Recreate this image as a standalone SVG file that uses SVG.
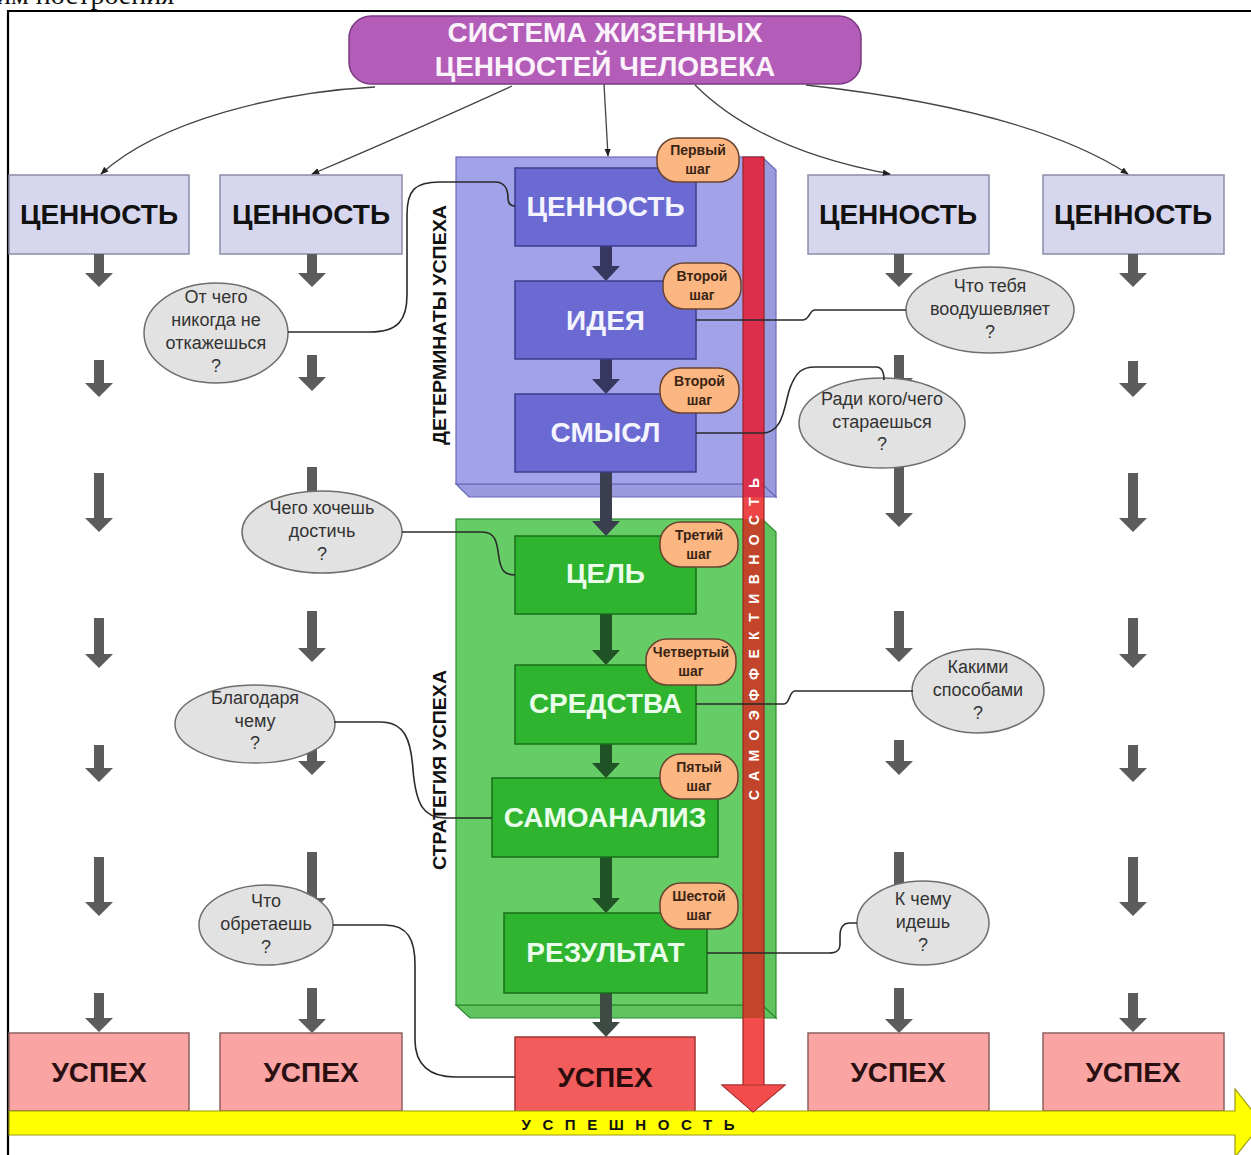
<svg xmlns="http://www.w3.org/2000/svg" width="1251" height="1155" viewBox="0 0 1251 1155">
<style>
text{font-family:"Liberation Sans",Arial,sans-serif}
.bt{font-weight:bold;font-size:28px;text-anchor:middle}
.ob{fill:#d6d6ee;stroke:#8c8ca6;stroke-width:1.5}
.us{fill:#fba4a4;stroke:#8e6060;stroke-width:1.5}
.ga{fill:#5c5c5c}
.ib{fill:#6a6ad2;stroke:#3c3c8c;stroke-width:1.5}
.ig{fill:#2eb42e;stroke:#1a6e1a;stroke-width:1.5}
.bd{fill:#fbb682;stroke:#6a4430;stroke-width:1.5}
.bdt{font-size:14px;font-weight:bold;fill:#3a2414;text-anchor:middle}
.el{fill:#e2e2e2;stroke:#6e6e6e;stroke-width:1.5}
.et{font-size:18px;fill:#333;text-anchor:middle}
.cn{fill:none;stroke:#2a2a2a;stroke-width:1.6}
.tc{fill:none;stroke:#444;stroke-width:1.3;marker-end:url(#ah)}
.pl{font-size:18px;font-weight:bold;fill:#111;text-anchor:middle}
</style>
<defs>
<marker id="ah" viewBox="0 0 10 10" refX="9" refY="5" markerWidth="8" markerHeight="8" orient="auto" markerUnits="userSpaceOnUse"><path d="M0,1 L10,5 L0,9 z" fill="#222"/></marker>
</defs>
<rect width="1251" height="1155" fill="#fff"/>
<text x="-4" y="4" font-family="'Liberation Serif',serif" style="font-family:'Liberation Serif',serif" font-size="28" fill="#111">им построения</text>
<path d="M8,1155 V11 H1251" fill="none" stroke="#000" stroke-width="2.2"/>

<g id="title">
<rect x="349" y="16" width="512" height="68" rx="22" fill="#b35db8" stroke="#7a3a82" stroke-width="1.5"/>
<text class="bt" x="605" y="42" fill="#fbf2fb">СИСТЕМА ЖИЗЕННЫХ</text>
<text class="bt" x="605" y="76" fill="#fbf2fb">ЦЕННОСТЕЙ ЧЕЛОВЕКА</text>
</g>

<g id="values">
<rect class="ob" x="9" y="175" width="180" height="79"/><text class="bt" x="99" y="224" fill="#111">ЦЕННОСТЬ</text>
<rect class="ob" x="220" y="175" width="182" height="79"/><text class="bt" x="311" y="224" fill="#111">ЦЕННОСТЬ</text>
<rect class="ob" x="808" y="175" width="181" height="79"/><text class="bt" x="898" y="224" fill="#111">ЦЕННОСТЬ</text>
<rect class="ob" x="1043" y="175" width="181" height="79"/><text class="bt" x="1133" y="224" fill="#111">ЦЕННОСТЬ</text>
</g>

<g id="gray-arrows" class="ga">
<polygon points="94,254 104,254 104,273 113,273 99,287 85,273 94,273"/>
<polygon points="94,360 104,360 104,383 113,383 99,397 85,383 94,383"/>
<polygon points="94,473 104,473 104,518 113,518 99,532 85,518 94,518"/>
<polygon points="94,618 104,618 104,654 113,654 99,668 85,654 94,654"/>
<polygon points="94,745 104,745 104,768 113,768 99,782 85,768 94,768"/>
<polygon points="94,857 104,857 104,902 113,902 99,916 85,902 94,902"/>
<polygon points="94,993 104,993 104,1018 113,1018 99,1032 85,1018 94,1018"/>
<polygon points="307,254 317,254 317,273 326,273 312,287 298,273 307,273"/>
<polygon points="307,355 317,355 317,377 326,377 312,391 298,377 307,377"/>
<polygon points="307,467 317,467 317,513 326,513 312,527 298,513 307,513"/>
<polygon points="307,611 317,611 317,648 326,648 312,662 298,648 307,648"/>
<polygon points="307,745 317,745 317,761 326,761 312,775 298,761 307,761"/>
<polygon points="307,852 317,852 317,898 326,898 312,912 298,898 307,898"/>
<polygon points="307,988 317,988 317,1019 326,1019 312,1033 298,1019 307,1019"/>
<polygon points="894,254 904,254 904,273 913,273 899,287 885,273 894,273"/>
<polygon points="894,355 904,355 904,378 913,378 899,392 885,378 894,378"/>
<polygon points="894,467 904,467 904,513 913,513 899,527 885,513 894,513"/>
<polygon points="894,611 904,611 904,648 913,648 899,662 885,648 894,648"/>
<polygon points="894,740 904,740 904,761 913,761 899,775 885,761 894,761"/>
<polygon points="894,852 904,852 904,898 913,898 899,912 885,898 894,898"/>
<polygon points="894,988 904,988 904,1019 913,1019 899,1033 885,1019 894,1019"/>
<polygon points="1128,254 1138,254 1138,273 1147,273 1133,287 1119,273 1128,273"/>
<polygon points="1128,361 1138,361 1138,383 1147,383 1133,397 1119,383 1128,383"/>
<polygon points="1128,473 1138,473 1138,518 1147,518 1133,532 1119,518 1128,518"/>
<polygon points="1128,618 1138,618 1138,654 1147,654 1133,668 1119,654 1128,654"/>
<polygon points="1128,745 1138,745 1138,768 1147,768 1133,782 1119,768 1128,768"/>
<polygon points="1128,857 1138,857 1138,902 1147,902 1133,916 1119,902 1128,902"/>
<polygon points="1128,993 1138,993 1138,1018 1147,1018 1133,1032 1119,1018 1128,1018"/>
</g>

<g id="success">
<rect class="us" x="9" y="1033" width="180" height="78"/><text class="bt" x="99" y="1082" fill="#2a1010">УСПЕХ</text>
<rect class="us" x="220" y="1033" width="182" height="78"/><text class="bt" x="311" y="1082" fill="#2a1010">УСПЕХ</text>
<rect x="515" y="1037" width="180" height="76" fill="#f25c5c" stroke="#a03434" stroke-width="1.5"/><text class="bt" x="605" y="1087" fill="#2a0c0c">УСПЕХ</text>
<rect class="us" x="808" y="1033" width="181" height="78"/><text class="bt" x="898" y="1082" fill="#2a1010">УСПЕХ</text>
<rect class="us" x="1043" y="1033" width="181" height="78"/><text class="bt" x="1133" y="1082" fill="#2a1010">УСПЕХ</text>
</g>

<g id="success-bar">
<polygon points="9,1111 1235,1111 1235,1089 1262,1123 1235,1157 1235,1135 9,1135" fill="#ffff00" stroke="#9a9a10" stroke-width="1.2"/>
<text x="628" y="1130" font-size="15" font-weight="bold" fill="#111" text-anchor="middle" textLength="213" lengthAdjust="spacing">УСПЕШНОСТЬ</text>
</g>

<g id="panel-determinants">
<polygon points="762,157 776,170 776,497 762,484" fill="#9a9adf" stroke="#6a6ab8" stroke-width="1.2"/>
<polygon points="456,484 762,484 776,497 469,497" fill="#9a9adf" stroke="#6a6ab8" stroke-width="1.2"/>
<rect x="456" y="157" width="306" height="327" fill="#a2a2e8" stroke="#6a6ab8" stroke-width="1.2"/>
<text class="pl" transform="translate(446,325) rotate(-90)" textLength="240" lengthAdjust="spacingAndGlyphs">ДЕТЕРМИНАТЫ УСПЕХА</text>
</g>

<g id="panel-strategy">
<polygon points="762,519 776,532 776,1018 762,1005" fill="#5fc45f" stroke="#2e8a2e" stroke-width="1.2"/>
<polygon points="456,1005 762,1005 776,1018 470,1018" fill="#5fc45f" stroke="#2e8a2e" stroke-width="1.2"/>
<rect x="456" y="519" width="306" height="486" fill="#66cc66" stroke="#2e8a2e" stroke-width="1.2"/>
<text class="pl" transform="translate(446,770) rotate(-90)" textLength="200" lengthAdjust="spacingAndGlyphs">СТРАТЕГИЯ УСПЕХА</text>
</g>

<g id="inner-arrows">
<polygon points="600,246 612,246 612,266 620,266 606,281 592,266 600,266" fill="#36365e"/>
<polygon points="600,359 612,359 612,379 620,379 606,394 592,379 600,379" fill="#36365e"/>
<polygon points="600,472 612,472 612,521 620,521 606,536 592,521 600,521" fill="#3a3e4e"/>
<polygon points="600,614 612,614 612,650 620,650 606,665 592,650 600,650" fill="#1f5224"/>
<polygon points="600,744 612,744 612,763 620,763 606,778 592,763 600,763" fill="#1f5224"/>
<polygon points="600,857 612,857 612,898 620,898 606,913 592,898 600,898" fill="#1f5224"/>
<polygon points="600,993 612,993 612,1022 620,1022 606,1037 592,1022 600,1022" fill="#3e4a44"/>
</g>

<g id="box-value">
<rect class="ib" x="515" y="168" width="181" height="78"/><text class="bt" x="605.5" y="216" fill="#f4f4ff">ЦЕННОСТЬ</text>
</g>
<g id="box-idea">
<rect class="ib" x="515" y="281" width="181" height="78"/><text class="bt" x="605.5" y="330" fill="#f4f4ff">ИДЕЯ</text>
</g>
<g id="box-sense">
<rect class="ib" x="515" y="394" width="181" height="78"/><text class="bt" x="605.5" y="442" fill="#f4f4ff">СМЫСЛ</text>
</g>
<g id="box-goal">
<rect class="ig" x="515" y="536" width="181" height="78"/><text class="bt" x="605.5" y="583" fill="#eafcea">ЦЕЛЬ</text>
</g>
<g id="box-means">
<rect class="ig" x="515" y="665" width="181" height="79"/><text class="bt" x="605.5" y="713" fill="#eafcea">СРЕДСТВА</text>
</g>
<g id="box-selfanalysis">
<rect class="ig" x="492" y="778" width="226" height="79"/><text class="bt" x="605" y="827" fill="#eafcea">САМОАНАЛИЗ</text>
</g>
<g id="box-result">
<rect class="ig" x="504" y="913" width="203" height="80"/><text class="bt" x="605.5" y="962" fill="#eafcea">РЕЗУЛЬТАТ</text>
</g>

<g id="self-efficacy">
<rect x="743" y="157" width="21" height="340" fill="#dc2f4b"/>
<rect x="743" y="497" width="21" height="22" fill="#ee4646"/>
<rect x="743" y="519" width="21" height="499" fill="#c2452b"/>
<rect x="743" y="1018" width="21" height="67" fill="#f24c4c"/>
<polygon points="743,157 764,157 764,1085 785,1085 753,1112 722,1085 743,1085" fill="none" stroke="#9a2424" stroke-width="1.2"/>
<polygon points="722,1085 785,1085 753,1112" fill="#f24c4c" stroke="#b03030" stroke-width="1"/>
<text transform="translate(759,639) rotate(-90)" font-size="14" font-weight="bold" fill="#fff" text-anchor="middle" textLength="322" lengthAdjust="spacing">САМОЭФФЕКТИВНОСТЬ</text>
</g>

<g id="steps">
<rect class="bd" x="657" y="138" width="82" height="44" rx="20"/><text class="bdt" x="698" y="155">Первый</text><text class="bdt" x="698" y="174">шаг</text>
<rect class="bd" x="663" y="263" width="78" height="46" rx="21"/><text class="bdt" x="702" y="281">Второй</text><text class="bdt" x="702" y="300">шаг</text>
<rect class="bd" x="660" y="368" width="79" height="45" rx="21"/><text class="bdt" x="699.5" y="386">Второй</text><text class="bdt" x="699.5" y="405">шаг</text>
<rect class="bd" x="660" y="522" width="78" height="45" rx="21"/><text class="bdt" x="699" y="540">Третий</text><text class="bdt" x="699" y="559">шаг</text>
<rect class="bd" x="646" y="639" width="90" height="46" rx="21"/><text class="bdt" x="691" y="657">Четвертый</text><text class="bdt" x="691" y="676">шаг</text>
<rect class="bd" x="660" y="754" width="78" height="45" rx="21"/><text class="bdt" x="699" y="772">Пятый</text><text class="bdt" x="699" y="791">шаг</text>
<rect class="bd" x="660" y="883" width="78" height="46" rx="21"/><text class="bdt" x="699" y="901">Шестой</text><text class="bdt" x="699" y="920">шаг</text>
</g>

<g id="q-never">
<ellipse class="el" cx="216" cy="333" rx="72" ry="50"/>
<text class="et" x="216" y="303">От чего</text><text class="et" x="216" y="326">никогда не</text><text class="et" x="216" y="349">откажешься</text><text class="et" x="216" y="372">?</text>
</g>
<g id="q-achieve">
<ellipse class="el" cx="322" cy="532" rx="80" ry="41"/>
<text class="et" x="322" y="514">Чего хочешь</text><text class="et" x="322" y="537">достичь</text><text class="et" x="322" y="560">?</text>
</g>
<g id="q-thanks">
<ellipse class="el" cx="255" cy="724" rx="80" ry="39"/>
<text class="et" x="255" y="704">Благодаря</text><text class="et" x="255" y="727">чему</text><text class="et" x="255" y="749">?</text>
</g>
<g id="q-gain">
<ellipse class="el" cx="266" cy="925" rx="67" ry="40"/>
<text class="et" x="266" y="907">Что</text><text class="et" x="266" y="930">обретаешь</text><text class="et" x="266" y="953">?</text>
</g>
<g id="q-inspire">
<ellipse class="el" cx="990" cy="310" rx="84" ry="43"/>
<text class="et" x="990" y="292">Что тебя</text><text class="et" x="990" y="315">воодушевляет</text><text class="et" x="990" y="338">?</text>
</g>
<g id="q-forwhom">
<ellipse class="el" cx="882" cy="423" rx="83" ry="45"/>
<text class="et" x="882" y="405">Ради кого/чего</text><text class="et" x="882" y="428">стараешься</text><text class="et" x="882" y="450">?</text>
</g>
<g id="q-how">
<ellipse class="el" cx="978" cy="691" rx="66" ry="42"/>
<text class="et" x="978" y="673">Какими</text><text class="et" x="978" y="696">способами</text><text class="et" x="978" y="719">?</text>
</g>
<g id="q-where">
<ellipse class="el" cx="923" cy="923" rx="66" ry="42"/>
<text class="et" x="923" y="905">К чему</text><text class="et" x="923" y="928">идешь</text><text class="et" x="923" y="951">?</text>
</g>

<g id="connectors">
<path class="tc" d="M375,87 C280,92 160,120 101,174"/>
<path class="tc" d="M512,86 Q420,128 312,174"/>
<path class="tc" d="M604,84 L608,156"/>
<path class="tc" d="M695,85 Q760,150 890,174"/>
<path class="tc" d="M806,85 Q1030,110 1128,174"/>
<path class="cn" d="M288,332 H370 C398,332 407,320 407,295 V215 C407,190 415,182 440,182 H495 C505,182 508,190 508,198 C508,204 511,206 515,206"/>
<path class="cn" d="M906,310 H815 C809,310 810,320 803,320 H696"/>
<path class="cn" d="M696,433 H762 C784,433 784,405 790,388 C796,372 802,367 815,367 H876 C882,367 884,372 884,380"/>
<path class="cn" d="M402,532 H482 C497,532 497,545 499,558 C501,571 505,575 515,575"/>
<path class="cn" d="M913,691 H795 C789,691 790,704 784,704 H696"/>
<path class="cn" d="M334,722 H380 C405,722 411,740 413,770 C416,805 424,818 445,818 H492"/>
<path class="cn" d="M333,925 H385 C408,925 415,940 415,965 V1040 C415,1065 430,1077 455,1077 H515"/>
<path class="cn" d="M857,923 H850 C843,923 840,928 840,936 V944 C840,951 836,953 829,953 H707"/>
</g>
</svg>
